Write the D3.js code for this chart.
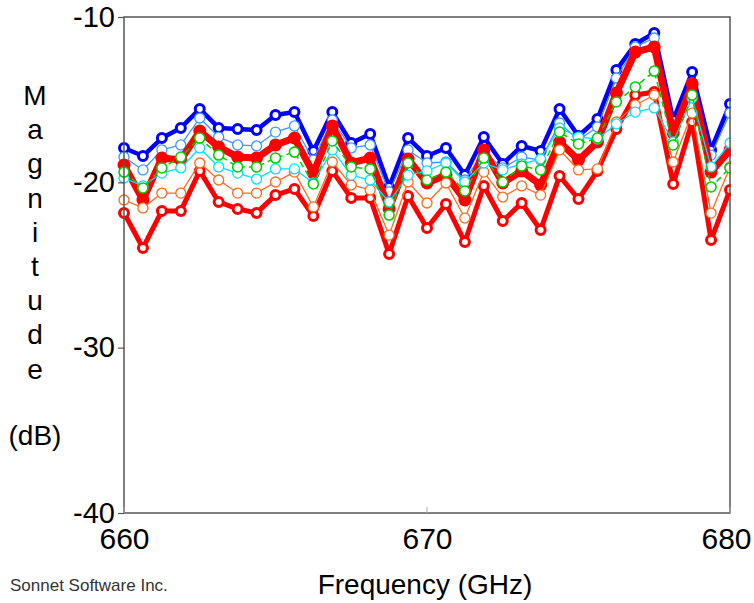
<!DOCTYPE html>
<html>
<head>
<meta charset="utf-8">
<script src="https://cdn.jsdelivr.net/npm/d3@7"></script>
<style>
  html, body { margin: 0; padding: 0; background: #ffffff; }
  svg { display: block; font-family: "Liberation Sans", Arial, sans-serif; }
</style>
</head>
<body>
<svg id="chart" width="754" height="603"></svg>
<script>
// ---- Data ----
const frequencies = [660, 660.625, 661.25, 661.875, 662.5, 663.125, 663.75, 664.375, 665, 665.625,
  666.25, 666.875, 667.5, 668.125, 668.75, 669.375, 670, 670.625, 671.25, 671.875,
  672.5, 673.125, 673.75, 674.375, 675, 675.625, 676.25, 676.875, 677.5, 678.125,
  678.75, 679.375, 680];

const blueThick = [-17.92, -18.41, -17.32, -16.71, -15.56, -16.71, -16.77, -16.83, -15.93, -15.75,
  -18.10, -15.75, -17.62, -17.08, -20.28, -17.32, -18.41, -17.92, -19.56, -17.26,
  -18.89, -17.80, -18.10, -15.56, -17.20, -16.17, -13.21, -11.63, -10.97, -16.23,
  -13.33, -18.04, -15.26];

const lightBlue = [-18.47, -19.25, -18.04, -17.74, -16.11, -17.26, -17.74, -17.80, -16.96, -16.59,
  -18.65, -16.23, -17.92, -17.74, -20.58, -18.04, -18.83, -18.77, -19.86, -18.16,
  -19.13, -18.47, -18.65, -16.41, -17.44, -16.65, -13.69, -11.81, -11.27, -16.53,
  -13.99, -18.35, -15.81];

const redUpper = [-18.95, -21.07, -18.53, -18.65, -16.90, -17.86, -18.47, -18.53, -17.74, -17.32,
  -19.44, -16.59, -18.83, -18.53, -21.61, -18.59, -20.04, -19.56, -21.07, -18.04,
  -20.04, -19.31, -20.16, -17.56, -18.65, -17.56, -14.60, -12.12, -11.81, -17.02,
  -14.05, -19.38, -18.04];

const greenDashed = [-19.38, -20.34, -19.13, -18.47, -17.32, -18.35, -19.07, -19.07, -18.53, -18.17,
  -20.10, -17.50, -19.07, -19.19, -21.98, -18.83, -19.86, -19.38, -20.52, -18.53,
  -19.98, -19.01, -19.25, -16.96, -17.68, -17.32, -15.14, -14.23, -13.27, -17.74,
  -14.72, -20.28, -19.13];

const cyanThin = [-19.74, -20.22, -19.44, -19.13, -17.92, -19.07, -19.44, -19.80, -19.19, -19.19,
  -20.04, -18.04, -19.56, -19.86, -21.19, -19.56, -19.31, -18.83, -19.98, -18.83,
  -19.25, -18.89, -18.59, -16.71, -17.26, -17.38, -16.47, -15.75, -15.50, -17.56,
  -14.90, -19.07, -17.62];

const orangeThin = [-21.07, -21.55, -20.65, -20.65, -18.83, -19.86, -20.65, -20.65, -19.98, -19.38,
  -21.49, -18.77, -20.16, -20.46, -23.19, -19.98, -21.25, -20.04, -22.16, -19.38,
  -20.89, -20.22, -20.77, -18.04, -19.25, -19.19, -16.35, -15.32, -14.72, -18.77,
  -15.81, -21.86, -19.07];

const redLower = [-21.85, -23.97, -21.73, -21.73, -19.31, -21.19, -21.61, -21.85, -20.77, -20.40,
  -22.04, -19.31, -20.95, -20.95, -24.33, -20.83, -22.76, -21.31, -23.61, -20.22,
  -22.34, -21.25, -22.88, -19.62, -21.01, -19.31, -16.77, -14.72, -14.54, -20.10,
  -16.35, -23.49, -20.46];

const xTicks = [660, 670, 680];
const yTicks = [-10, -20, -30, -40];
const yTitleLetters = ["M", "a", "g", "n", "i", "t", "u", "d", "e"];

// ---- Layout ----
const svg = d3.select("#chart");
const pLeft = 124, pRight = 730, pTop = 17, pBottom = 513;
const x = d3.scaleLinear().domain([660, 680]).range([pLeft, pRight]);
const y = d3.scaleLinear().domain([-40, -10]).range([pBottom, pTop]);

svg.append("defs").append("clipPath").attr("id", "clip")
  .append("rect").attr("x", pLeft - 8).attr("y", 0).attr("width", pRight - pLeft + 9).attr("height", 603);

// series styles (drawn in this order)
const series = [
  { values: blueThick,   color: "#0000ff", width: 4.5, dash: null,  marker: "ring",   r: 4.5, mw: 3 },
  { values: lightBlue,   color: "#3d96ff", width: 1.3, dash: null,  marker: "open",   r: 5,   mw: 1.3 },
  { values: redUpper,    color: "#ff0000", width: 7,   dash: null,  marker: "filled", r: 6.5, mw: 0 },
  { values: redLower,    color: "#ff0000", width: 5,   dash: null,  marker: "ring",   r: 4.5, mw: 3 },
  { values: orangeThin,  color: "#ff6a1a", width: 1.3, dash: null,  marker: "open",   r: 5,   mw: 1.3 },
  { values: cyanThin,    color: "#00e0ff", width: 1.3, dash: null,  marker: "open",   r: 5,   mw: 1.3 },
  { values: greenDashed, color: "#00d000", width: 1.5, dash: "6,4", marker: "open",   r: 5,   mw: 1.6 }
];

const plot = svg.append("g").attr("clip-path", "url(#clip)");
const line = d3.line().x((d, i) => x(frequencies[i])).y(d => y(d));

series.forEach(s => {
  const g = plot.append("g");
  g.append("path")
    .attr("d", line(s.values))
    .attr("fill", "none")
    .attr("stroke", s.color)
    .attr("stroke-width", s.width)
    .attr("stroke-linejoin", "round")
    .attr("stroke-dasharray", s.dash);
  g.selectAll("circle").data(s.values).enter().append("circle")
    .attr("cx", (d, i) => x(frequencies[i]))
    .attr("cy", d => y(d))
    .attr("r", s.r)
    .attr("fill", s.marker === "filled" ? s.color : "#ffffff")
    .attr("stroke", s.color)
    .attr("stroke-width", s.mw);
});

// ---- Frame and axes ----
const frameColor = "#555555";
svg.append("rect")
  .attr("x", pLeft).attr("y", pTop).attr("width", pRight - pLeft).attr("height", pBottom - pTop)
  .attr("fill", "none").attr("stroke", frameColor).attr("stroke-width", 1.5);

const fmt = d => String(d);
const yAxis = d3.axisLeft(y).tickValues(yTicks).tickSize(6).tickPadding(3).tickFormat(fmt);
const gy = svg.append("g").attr("transform", `translate(${pLeft},0)`).call(yAxis);
gy.select(".domain").remove();
gy.selectAll(".tick line").attr("stroke", frameColor).attr("stroke-width", 1.2);
gy.selectAll(".tick text").attr("font-size", 29).attr("fill", "#000")
  .attr("font-family", "Liberation Sans, Arial, sans-serif");

const xAxis = d3.axisBottom(x).tickValues(xTicks).tickSize(0).tickPadding(15).tickFormat(fmt);
const gx = svg.append("g").attr("transform", `translate(0,${pBottom})`).call(xAxis);
gx.select(".domain").remove();
gx.selectAll(".tick text").attr("font-size", 30).attr("fill", "#000")
  .attr("font-family", "Liberation Sans, Arial, sans-serif")
  .attr("dx", d => d === 680 ? -4 : 0);
// small inward tick marks on the bottom axis
svg.selectAll(".xtick").data(xTicks).enter().append("line")
  .attr("x1", d => x(d)).attr("x2", d => x(d))
  .attr("y1", pBottom).attr("y2", pBottom - 6)
  .attr("stroke", "#aaaaaa").attr("stroke-width", 1);

// ---- Titles ----
svg.append("text")
  .attr("x", 425).attr("y", 594)
  .attr("text-anchor", "middle")
  .attr("font-size", 28)
  .text("Frequency (GHz)");

const yt = svg.append("g");
yTitleLetters.forEach((ch, i) => {
  yt.append("text")
    .attr("x", 35).attr("y", 105 + i * 34.2)
    .attr("text-anchor", "middle")
    .attr("font-size", 28)
    .text(ch);
});
yt.append("text")
  .attr("x", 35).attr("y", 445)
  .attr("text-anchor", "middle")
  .attr("font-size", 28)
  .text("(dB)");

svg.append("text")
  .attr("x", 10).attr("y", 591)
  .attr("font-size", 17)
  .attr("fill", "#333333")
  .text("Sonnet Software Inc.");
</script>
</body>
</html>
